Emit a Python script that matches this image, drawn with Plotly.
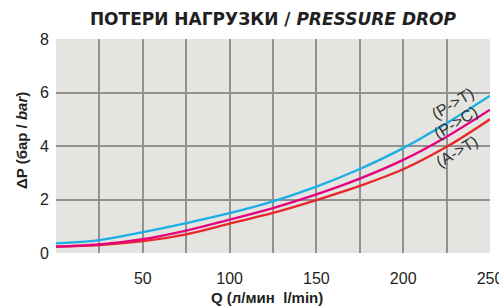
import plotly.graph_objects as go

# Flow Q (l/min) and pressure drop (bar)
q = [0, 25, 50, 75, 100, 125, 150, 175, 200, 225, 250]
p_t = [0.36, 0.48, 0.78, 1.12, 1.49, 1.93, 2.48, 3.14, 3.92, 4.85, 5.88]
p_c = [0.24, 0.32, 0.52, 0.84, 1.25, 1.68, 2.19, 2.78, 3.48, 4.35, 5.36]
a_t = [0.24, 0.30, 0.44, 0.70, 1.10, 1.50, 1.98, 2.51, 3.13, 3.97, 5.00]

series_names = ["(A->T)", "(P->C)", "(P->T)"]
series_values = [a_t, p_c, p_t]
series_colors = ["#e8262b", "#e5007e", "#1aafe6"]

x_ticks = [50, 100, 150, 200, 250]
x_grid = [25, 50, 75, 100, 125, 150, 175, 200, 225]
y_ticks = [0, 2, 4, 6, 8]
y_grid = [2, 4, 6]

# label anchor points (data coords)
label_pos = [(231.0, 3.80), (230.4, 4.88), (228.7, 5.58)]

fig = go.Figure()
for name, vals, col in zip(series_names, series_values, series_colors):
    fig.add_trace(go.Scatter(x=q, y=vals, mode="lines", name=name,
                             line=dict(color=col, width=2.3, shape="spline", smoothing=1.0),
                             hoverinfo="skip"))

for name, (lx, ly) in zip(series_names, label_pos):
    fig.add_annotation(x=lx, y=ly, text=name, showarrow=False, textangle=-31,
                       font=dict(family="Liberation Sans, Arial, sans-serif", size=16, color="#333333"))

fig.update_layout(
    width=499, height=306,
    margin=dict(l=56, r=9, t=39, b=53, autoexpand=False),
    paper_bgcolor="white", plot_bgcolor="#e4e4e0",
    showlegend=False,
    title=dict(text="<b>ПОТЕРИ НАГРУЗКИ / <i>PRESSURE DROP</i></b>",
               x=0.547, xanchor="center", y=1 - 19 / 306, yanchor="middle",
               font=dict(family="DejaVu Sans, sans-serif", size=17, color="#231f20")),
    font=dict(family="Liberation Sans, Arial, sans-serif", color="#231f20"),
)
fig.update_xaxes(range=[0, 250], tickvals=x_ticks, showgrid=False, zeroline=False,
                 showline=False, ticks="", ticklabelstandoff=14, automargin=False,
                 ticklabeloverflow="allow",
                 tickfont=dict(size=16, color="#231f20"),
                 minor=dict(tickvals=x_grid, showgrid=True, gridcolor="#919191", gridwidth=2, ticks=""))
fig.update_yaxes(range=[0, 8], tickvals=y_ticks, showgrid=False, zeroline=False,
                 showline=False, ticks="", ticklabelstandoff=6, automargin=False,
                 ticklabeloverflow="allow",
                 tickfont=dict(size=16, color="#231f20"),
                 minor=dict(tickvals=y_grid, showgrid=True, gridcolor="#919191", gridwidth=2, ticks=""))

fig.add_annotation(xref="paper", yref="paper", x=(267 - 56) / 434, y=-(297 - 253) / 214,
                   text="<b>Q (л/мин  l/min)</b>", showarrow=False, xanchor="center", yanchor="middle",
                   font=dict(size=15, color="#231f20"))
fig.add_annotation(xref="paper", yref="paper", x=-(56 - 21) / 434, y=(253 - 141) / 214,
                   text="<b>ΔP (бар / <i>bar</i>)</b>", showarrow=False, textangle=-90,
                   xanchor="center", yanchor="middle",
                   font=dict(size=15, color="#231f20"))

fig.write_html("out.html", config={"displayModeBar": False},
               post_script="document.body.style.margin='0';document.body.style.padding='0';"
                           "document.body.style.overflow='hidden';")
